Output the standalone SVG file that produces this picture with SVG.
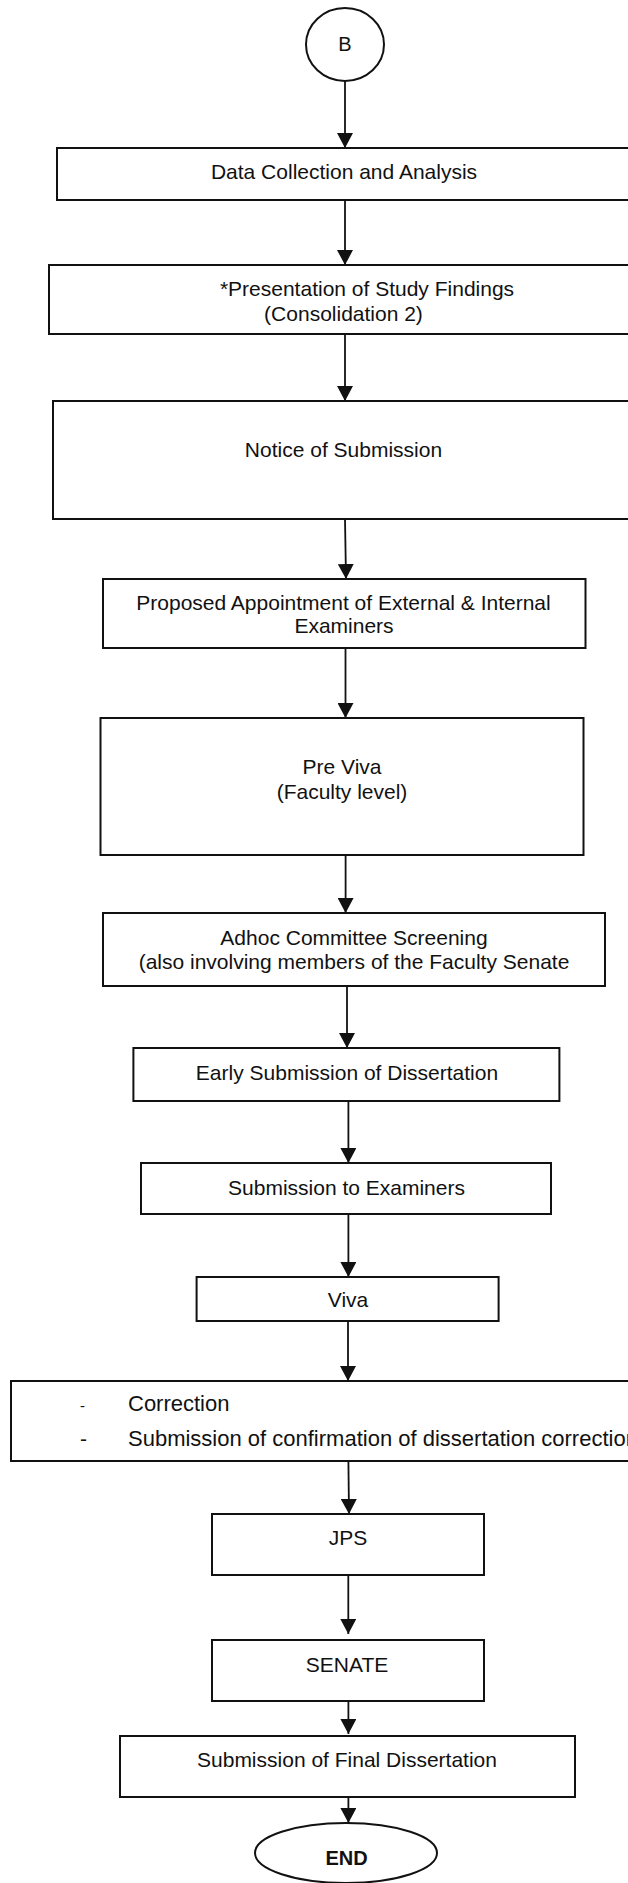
<svg xmlns="http://www.w3.org/2000/svg" width="628" height="1883" viewBox="0 0 628 1883">
<style>
  .box { fill: #fff; stroke: #111; stroke-width: 2; }
  .t { font-family: "Liberation Sans", Arial, sans-serif; font-size: 21px; fill: #111; text-anchor: middle; }
  .l { text-anchor: start; }
  .c { stroke: #111; stroke-width: 1.8; fill: none; marker-end: url(#ah); }
</style>
<defs>
  <marker id="ah" markerUnits="userSpaceOnUse" markerWidth="15" markerHeight="16" refX="15" refY="8" orient="auto">
    <path d="M0,0 L15,8 L0,16 z" fill="#111"/>
  </marker>
</defs>
<rect width="628" height="1883" fill="#fff"/>

<g id="connectors">
  <line class="c" x1="345" y1="81" x2="345" y2="148"/>
  <line class="c" x1="345" y1="200" x2="345" y2="265"/>
  <line class="c" x1="345" y1="334" x2="345" y2="401"/>
  <line class="c" x1="345" y1="519" x2="346" y2="579"/>
  <line class="c" x1="345.5" y1="648" x2="345.5" y2="718"/>
  <line class="c" x1="345.6" y1="855" x2="345.6" y2="913"/>
  <line class="c" x1="347" y1="986" x2="347" y2="1048"/>
  <line class="c" x1="348.4" y1="1101" x2="348.4" y2="1163"/>
  <line class="c" x1="348.4" y1="1214" x2="348.4" y2="1277"/>
  <line class="c" x1="348" y1="1321" x2="348" y2="1381"/>
  <line class="c" x1="348.4" y1="1461" x2="349" y2="1514"/>
  <line class="c" x1="348.3" y1="1575" x2="348.3" y2="1634"/>
  <line class="c" x1="348.4" y1="1701" x2="348.4" y2="1734"/>
  <line class="c" x1="348.4" y1="1797" x2="348.4" y2="1823"/>
</g>

<g id="node-b">
  <ellipse class="box" cx="345" cy="44.5" rx="39" ry="36.5"/>
  <text class="t" x="345" y="51" style="font-size:20px">B</text>
</g>

<g id="node-data">
  <rect class="box" x="57" y="148" width="590" height="52"/>
  <text class="t" x="344" y="179">Data Collection and Analysis</text>
</g>

<g id="node-presentation">
  <rect class="box" x="49" y="265" width="598" height="69"/>
  <text class="t" x="367" y="296">*Presentation of Study Findings</text>
  <text class="t" x="343.5" y="321">(Consolidation 2)</text>
</g>

<g id="node-notice">
  <rect class="box" x="53" y="401" width="594" height="118"/>
  <text class="t" x="343.5" y="457">Notice of Submission</text>
</g>

<g id="node-proposed">
  <rect class="box" x="103" y="579" width="482.5" height="69"/>
  <text class="t" x="343.5" y="610">Proposed Appointment of External &amp; Internal</text>
  <text class="t" x="344" y="633">Examiners</text>
</g>

<g id="node-previva">
  <rect class="box" x="100.5" y="718" width="483" height="137"/>
  <text class="t" x="342" y="774">Pre Viva</text>
  <text class="t" x="342" y="799">(Faculty level)</text>
</g>

<g id="node-adhoc">
  <rect class="box" x="103" y="913" width="502" height="73"/>
  <text class="t" x="354" y="945">Adhoc Committee Screening</text>
  <text class="t" x="354" y="969">(also involving members of the Faculty Senate</text>
</g>

<g id="node-early">
  <rect class="box" x="133.4" y="1048" width="426" height="53"/>
  <text class="t" x="347" y="1080">Early Submission of Dissertation</text>
</g>

<g id="node-examiners">
  <rect class="box" x="141" y="1163" width="410" height="51"/>
  <text class="t" x="346.5" y="1195">Submission to Examiners</text>
</g>

<g id="node-viva">
  <rect class="box" x="196.6" y="1277" width="302" height="44"/>
  <text class="t" x="348" y="1307">Viva</text>
</g>

<g id="node-correction">
  <rect class="box" x="11" y="1381" width="636" height="80"/>
  <text class="t l" x="80" y="1411" style="font-size:15px">-</text>
  <text class="t l" x="128" y="1411" style="font-size:22px">Correction</text>
  <text class="t l" x="80" y="1446">-</text>
  <text class="t l" x="128" y="1446" style="font-size:22px">Submission of confirmation of dissertation correction</text>
</g>

<g id="node-jps">
  <rect class="box" x="212" y="1514" width="272" height="61"/>
  <text class="t" x="348" y="1545">JPS</text>
</g>

<g id="node-senate">
  <rect class="box" x="212" y="1640" width="272" height="61"/>
  <text class="t" x="347" y="1672">SENATE</text>
</g>

<g id="node-final">
  <rect class="box" x="120" y="1736" width="455" height="61"/>
  <text class="t" x="347" y="1767">Submission of Final Dissertation</text>
</g>

<g id="node-end">
  <ellipse class="box" cx="346" cy="1853" rx="91" ry="30"/>
  <text class="t" x="346.5" y="1865" style="font-size:20px;font-weight:bold">END</text>
</g>
</svg>
